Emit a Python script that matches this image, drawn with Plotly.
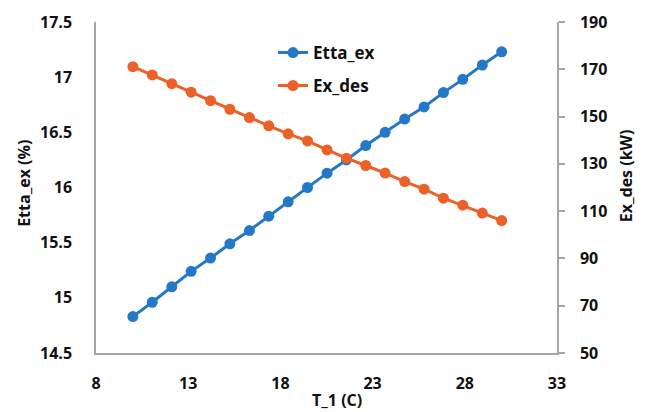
import plotly.graph_objects as go

# Data
t1 = [10, 11.05, 12.11, 13.16, 14.21, 15.26, 16.32, 17.37, 18.42, 19.47,
      20.53, 21.58, 22.63, 23.68, 24.74, 25.79, 26.84, 27.89, 28.95, 30]
etta_ex = [14.83, 14.96, 15.10, 15.24, 15.36, 15.49, 15.61, 15.74, 15.87, 16.00,
           16.13, 16.25, 16.38, 16.50, 16.62, 16.73, 16.86, 16.98, 17.11, 17.23]
ex_des = [171.1, 167.6, 163.9, 160.3, 156.7, 153.1, 149.6, 146.1, 142.7, 139.7,
          135.9, 132.4, 129.3, 126.1, 122.5, 119.3, 115.5, 112.5, 109.2, 106.0]
x_ticks = [8, 13, 18, 23, 28, 33]
y1_ticks = [14.5, 15, 15.5, 16, 16.5, 17, 17.5]
y1_labels = ["14.5", "15", "15.5", "16", "16.5", "17", "17.5"]
y2_ticks = [50, 70, 90, 110, 130, 150, 170, 190]

BLUE = "#2478c8"
ORANGE = "#ec6127"
AXIS = "#a6a6a6"
FONT = "Open Sans"
TXT = "#111111"

fig = go.Figure()
fig.add_trace(go.Scatter(x=t1, y=etta_ex, name="Etta_ex", mode="lines+markers",
                         line=dict(color=BLUE, width=3),
                         marker=dict(color=BLUE, size=11),
                         legend="legend"))
fig.add_trace(go.Scatter(x=t1, y=ex_des, name="Ex_des", mode="lines+markers",
                         line=dict(color=ORANGE, width=3),
                         marker=dict(color=ORANGE, size=11),
                         yaxis="y2", legend="legend2"))

tickfont = dict(family=FONT, size=16, color=TXT, weight="bold")
legfont = dict(family=FONT, size=17, color=TXT, weight="bold")
titlefont = dict(family=FONT, size=16, color=TXT, weight="bold")

fig.update_layout(
    width=646, height=412,
    margin=dict(l=96, r=89, t=22, b=59),
    paper_bgcolor="white", plot_bgcolor="white",
    showlegend=True,
    xaxis=dict(range=[8, 33], tickvals=x_ticks, showgrid=False, zeroline=False,
               showline=True, linecolor=AXIS, linewidth=1.5,
               ticks="", tickfont=tickfont, ticklabelstandoff=15),
    yaxis=dict(range=[14.5, 17.5], tickvals=y1_ticks, ticktext=y1_labels,
               showgrid=False, zeroline=False,
               showline=True, linecolor=AXIS, linewidth=1.5,
               ticks="", tickfont=tickfont, ticklabelstandoff=19),
    yaxis2=dict(range=[50, 190], tickvals=y2_ticks, overlaying="y", side="right",
                showgrid=False, zeroline=False,
                showline=True, linecolor=AXIS, linewidth=1.5,
                ticks="outside", ticklen=6, tickcolor=AXIS, tickwidth=1.5,
                tickfont=tickfont, ticklabelstandoff=12),
    legend=dict(x=0.384, y=(353.3 - 53) / 331.3, xanchor="left", yanchor="middle",
                bgcolor="rgba(0,0,0,0)", font=legfont),
    legend2=dict(x=0.384, y=(353.3 - 86) / 331.3, xanchor="left", yanchor="middle",
                 bgcolor="rgba(0,0,0,0)", font=legfont),
    annotations=[
        dict(text="Etta_ex (%)", xref="paper", yref="paper",
             x=(24 - 96) / 461, y=0.511, textangle=-90, showarrow=False,
             xanchor="center", yanchor="middle", font=titlefont),
        dict(text="Ex_des (kW)", xref="paper", yref="paper",
             x=(626 - 96) / 461, y=0.534, textangle=-90, showarrow=False,
             xanchor="center", yanchor="middle", font=titlefont),
        dict(text="T_1 (C)", xref="paper", yref="paper",
             x=(337 - 96) / 461, y=(353.3 - 400) / 331.3, showarrow=False,
             xanchor="center", yanchor="middle", font=titlefont),
    ],
)

fig.write_html("out.html")
